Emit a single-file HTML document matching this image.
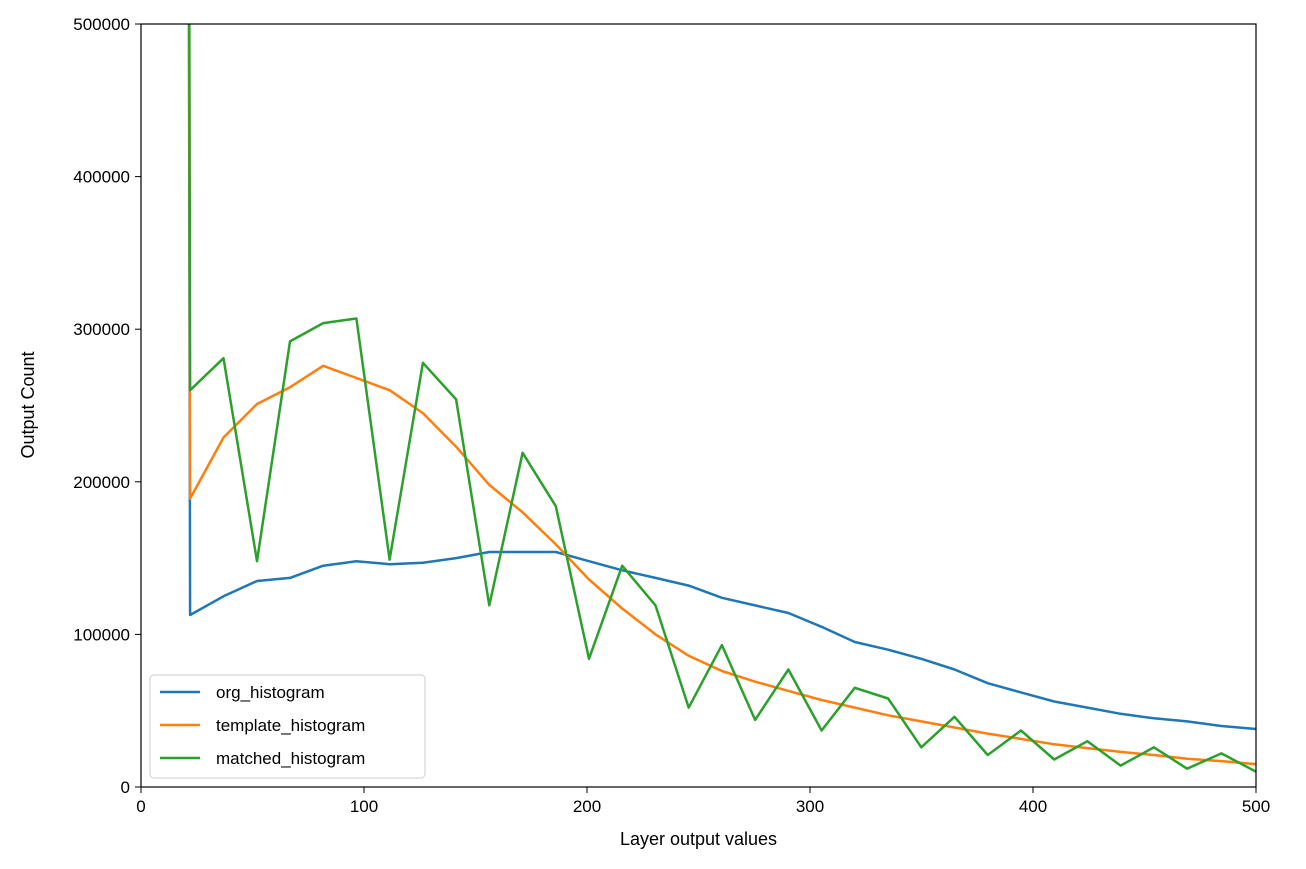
<!DOCTYPE html>
<html><head><meta charset="utf-8"><style>
body{margin:0;background:#fff;}
svg text{font-family:"Liberation Sans","DejaVu Sans",sans-serif;fill:#000;}
</style></head><body>
<svg id="chart" width="1306" height="864" xmlns="http://www.w3.org/2000/svg">
<defs><clipPath id="plotclip"><rect x="141" y="24" width="1115" height="763"/></clipPath></defs>
<g id="grid"></g>
<g id="series" clip-path="url(#plotclip)"></g>
<rect x="141" y="24" width="1115" height="763" fill="none" stroke="#000" stroke-width="1.2"/>
<g id="axes"></g>
<text x="698.5" y="845" font-size="18" text-anchor="middle">Layer output values</text>
<text transform="translate(34,405) rotate(-90)" font-size="18" text-anchor="middle">Output Count</text>
<g id="legend"></g>
</svg>
<script>
const xTicks=[0,100,200,300,400,500];
const yTicks=[0,100000,200000,300000,400000,500000];
const xVals=[19.5,22,37,52,66.8,81.7,96.6,111.5,126.4,141.3,156.2,171.1,186,200.9,215.8,230.7,245.6,260.5,275.4,290.3,305.2,320.1,335,349.9,364.8,379.7,394.6,409.5,424.4,439.3,454.2,469.1,484.5,500];
const orgHist=[2000000,112700,125000,135000,137000,145000,148000,146000,147000,150000,154000,154000,154000,148000,142000,137000,132000,124000,119000,114000,105000,95000,90000,84000,77000,68000,62000,56000,52000,48000,45000,43000,40000,38000];
const templateHist=[2000000,189000,229000,251000,262000,276000,268000,260000,245000,223000,198000,180000,159000,136000,117000,100000,86000,76000,69000,63000,57000,52000,47000,43000,39000,35000,31500,28000,25500,23000,21000,18500,17000,15000];
const matchedHist=[2000000,260000,281000,148000,292000,304000,307000,149000,278000,254000,119000,219000,184000,84000,145000,119000,52000,93000,44000,77000,37000,65000,58000,26000,46000,21000,37000,18000,30000,14000,26000,12000,22000,10000];
const seriesNames=["org_histogram","template_histogram","matched_histogram"];
const colors=["#1f77b4","#ff7f0e","#2ca02c"];
const X0=141,X1=1256,Y0=787,Y1=24;
const xs=v=>X0+(v-0)/500*(X1-X0);
const ys=v=>Y0-(v/500000)*(Y0-Y1);
const NS="http://www.w3.org/2000/svg";
const axes=document.getElementById('axes');
xTicks.forEach(t=>{
  const l=document.createElementNS(NS,'line');
  l.setAttribute('x1',xs(t));l.setAttribute('x2',xs(t));l.setAttribute('y1',Y0);l.setAttribute('y2',Y0+6);l.setAttribute('stroke','#000');
  
  
  axes.appendChild(l);
  const tx=document.createElementNS(NS,'text');
  tx.setAttribute('x',xs(t));tx.setAttribute('y',Y0+25);tx.setAttribute('font-size','17');tx.setAttribute('text-anchor','middle');
  tx.textContent=t;
  
  
  axes.appendChild(tx);
});
yTicks.forEach(t=>{
  const l=document.createElementNS(NS,'line');
  l.setAttribute('x1',X0-6);l.setAttribute('x2',X0);l.setAttribute('y1',ys(t));l.setAttribute('y2',ys(t));l.setAttribute('stroke','#000');
  
  
  axes.appendChild(l);
  const tx=document.createElementNS(NS,'text');
  tx.setAttribute('x',X0-11);tx.setAttribute('y',ys(t)+6);tx.setAttribute('font-size','17');tx.setAttribute('text-anchor','end');
  tx.textContent=t;
  
  
  axes.appendChild(tx);
});
const sg=document.getElementById('series');
[orgHist,templateHist,matchedHist].forEach((arr,i)=>{
  const p=document.createElementNS(NS,'polyline');
  p.setAttribute('points',arr.map((v,j)=>xs(xVals[j]).toFixed(1)+','+ys(v).toFixed(1)).join(' '));
  p.setAttribute('fill','none');p.setAttribute('stroke',colors[i]);p.setAttribute('stroke-width','2.5');p.setAttribute('stroke-linejoin','round');
  
  
  sg.appendChild(p);
});
const lg=document.getElementById('legend');
const box=document.createElementNS(NS,'rect');
box.setAttribute('x',150);box.setAttribute('y',675);box.setAttribute('width',275);box.setAttribute('height',103);box.setAttribute('rx',4);
box.setAttribute('fill','#fff');box.setAttribute('fill-opacity','0.8');box.setAttribute('stroke','#ccc');


lg.appendChild(box);
seriesNames.forEach((n,i)=>{
  const y=692+i*33;
  const l=document.createElementNS(NS,'line');
  l.setAttribute('x1',160);l.setAttribute('x2',200);l.setAttribute('y1',y);l.setAttribute('y2',y);l.setAttribute('stroke',colors[i]);l.setAttribute('stroke-width','2.5');
  
  
  lg.appendChild(l);
  const t=document.createElementNS(NS,'text');
  t.setAttribute('x',216);t.setAttribute('y',y+6);t.setAttribute('font-size','17');t.textContent=n;
  
  
  lg.appendChild(t);
});
</script>
</body></html>
